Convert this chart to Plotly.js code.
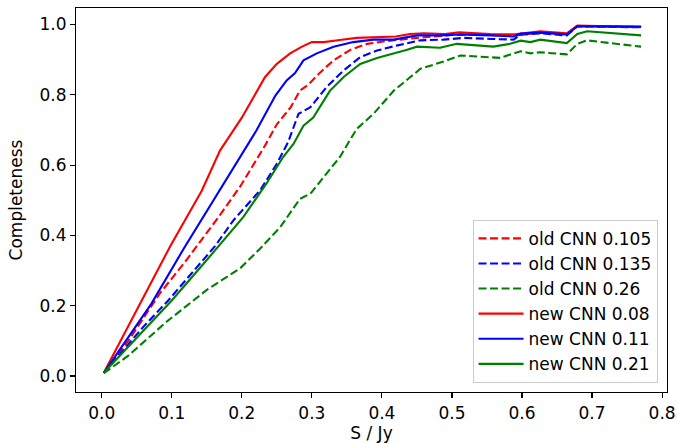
<!DOCTYPE html>
<html>
<head>
<meta charset="utf-8">
<script src="https://cdn.plot.ly/plotly-3.0.1.min.js"></script>
<style>html,body{margin:0;padding:0;background:#fff;}#chart{width:677px;height:443px;}</style>
</head>
<body>
<div id="chart"></div>
<script>
// Series names
const seriesNames = ["old CNN 0.105", "old CNN 0.135", "old CNN 0.26", "new CNN 0.08", "new CNN 0.11", "new CNN 0.21"];

// old CNN 0.105 (red dashed)
const oldRedX = [0.003, 0.038, 0.083, 0.121, 0.166, 0.198, 0.233, 0.25, 0.27, 0.283, 0.295, 0.31, 0.331, 0.355, 0.379, 0.407, 0.45, 0.5, 0.54, 0.588, 0.626, 0.664, 0.679, 0.77];
const oldRedY = [0.009, 0.10, 0.235, 0.33, 0.45, 0.54, 0.655, 0.716, 0.765, 0.812, 0.829, 0.86, 0.898, 0.928, 0.945, 0.953, 0.962, 0.97, 0.972, 0.968, 0.978, 0.972, 0.996, 0.993];

// old CNN 0.135 (blue dashed)
const oldBlueX = [0.003, 0.059, 0.095, 0.14, 0.162, 0.188, 0.226, 0.25, 0.266, 0.281, 0.298, 0.321, 0.345, 0.369, 0.393, 0.421, 0.455, 0.488, 0.517, 0.555, 0.588, 0.598, 0.626, 0.664, 0.679, 0.77];
const oldBlueY = [0.009, 0.139, 0.215, 0.32, 0.37, 0.443, 0.528, 0.604, 0.665, 0.746, 0.765, 0.822, 0.869, 0.907, 0.926, 0.94, 0.955, 0.957, 0.962, 0.959, 0.957, 0.971, 0.975, 0.969, 0.995, 0.992];

// old CNN 0.26 (green dashed)
const oldGreenX = [0.003, 0.019, 0.038, 0.093, 0.15, 0.198, 0.226, 0.255, 0.283, 0.298, 0.34, 0.364, 0.388, 0.417, 0.455, 0.493, 0.512, 0.569, 0.598, 0.612, 0.626, 0.664, 0.679, 0.693, 0.77];
const oldGreenY = [0.008, 0.030, 0.058, 0.155, 0.245, 0.307, 0.362, 0.424, 0.504, 0.519, 0.623, 0.703, 0.746, 0.812, 0.874, 0.898, 0.912, 0.905, 0.924, 0.918, 0.921, 0.915, 0.945, 0.955, 0.937];

// new CNN 0.08 (red solid)
const newRedX = [0.003, 0.057, 0.098, 0.143, 0.169, 0.188, 0.2, 0.233, 0.25, 0.269, 0.286, 0.30, 0.317, 0.34, 0.364, 0.42, 0.44, 0.46, 0.49, 0.51, 0.555, 0.59, 0.626, 0.664, 0.679, 0.77];
const newRedY = [0.009, 0.215, 0.37, 0.528, 0.642, 0.699, 0.735, 0.85, 0.888, 0.918, 0.937, 0.95, 0.95, 0.956, 0.962, 0.966, 0.973, 0.975, 0.973, 0.978, 0.973, 0.972, 0.981, 0.975, 0.997, 0.993];

// new CNN 0.11 (blue solid)
const newBlueX = [0.003, 0.071, 0.117, 0.133, 0.169, 0.207, 0.221, 0.248, 0.264, 0.276, 0.288, 0.307, 0.331, 0.359, 0.388, 0.417, 0.45, 0.483, 0.512, 0.555, 0.588, 0.598, 0.626, 0.664, 0.679, 0.77];
const newBlueY = [0.009, 0.206, 0.362, 0.414, 0.528, 0.651, 0.699, 0.798, 0.841, 0.862, 0.898, 0.918, 0.937, 0.95, 0.957, 0.957, 0.969, 0.969, 0.972, 0.969, 0.966, 0.974, 0.977, 0.972, 0.995, 0.994];

// new CNN 0.21 (green solid)
const newGreenX = [0.003, 0.1, 0.15, 0.164, 0.202, 0.236, 0.259, 0.274, 0.288, 0.302, 0.326, 0.345, 0.369, 0.393, 0.417, 0.436, 0.45, 0.483, 0.507, 0.559, 0.583, 0.598, 0.612, 0.626, 0.664, 0.679, 0.693, 0.77];
const newGreenY = [0.009, 0.215, 0.33, 0.362, 0.452, 0.55, 0.623, 0.661, 0.712, 0.735, 0.812, 0.85, 0.888, 0.905, 0.917, 0.928, 0.937, 0.934, 0.945, 0.937, 0.945, 0.954, 0.95, 0.957, 0.947, 0.973, 0.981, 0.969];

const xTickVals = [0.0, 0.1, 0.2, 0.3, 0.4, 0.5, 0.6, 0.7, 0.8];
const yTickVals = [0.0, 0.2, 0.4, 0.6, 0.8, 1.0];

const xs = [oldRedX, oldBlueX, oldGreenX, newRedX, newBlueX, newGreenX];
const ys = [oldRedY, oldBlueY, oldGreenY, newRedY, newBlueY, newGreenY];
const colors = ["#ff0000", "#0000ff", "#008000", "#ff0000", "#0000ff", "#008000"];
const dashes = ["8px,3.5px", "8px,3.5px", "8px,3.5px", "solid", "solid", "solid"];

const traces = seriesNames.map((n, i) => ({
  x: xs[i], y: ys[i], name: n, type: "scatter", mode: "lines",
  legendgroup: "g" + i,
  line: {color: colors[i], width: 2.1, dash: dashes[i]}
}));

const font = {family: "DejaVu Sans, sans-serif", size: 17, color: "#000"};
const axisCommon = {
  showline: true, linecolor: "#000", linewidth: 1.1, mirror: true,
  ticks: "outside", ticklen: 5, tickwidth: 1.1, tickcolor: "#000",
  showgrid: false, zeroline: false, tickfont: font
};

const layout = {
  width: 677, height: 443,
  margin: {l: 76, r: 10, t: 8, b: 51},
  paper_bgcolor: "#fff", plot_bgcolor: "#fff",
  font: font,
  showlegend: true,
  legend: {
    x: 0.984, y: 0.024, xanchor: "right", yanchor: "bottom",
    bgcolor: "rgba(255,255,255,0.8)", bordercolor: "#cccccc", borderwidth: 1,
    font: font, traceorder: "grouped", tracegroupgap: 0, itemwidth: 45
  },
  xaxis: Object.assign({}, axisCommon, {
    range: [-0.0367, 0.807], tickvals: xTickVals, tickformat: ".1f",
    title: {text: "S / Jy", font: font, standoff: 8}
  }),
  yaxis: Object.assign({}, axisCommon, {
    range: [-0.0455, 1.047], tickvals: yTickVals, tickformat: ".1f",
    title: {text: "Completeness", font: font, standoff: 12}
  })
};

Plotly.newPlot("chart", traces, layout, {displayModeBar: false, staticPlot: true});
</script>
</body>
</html>
